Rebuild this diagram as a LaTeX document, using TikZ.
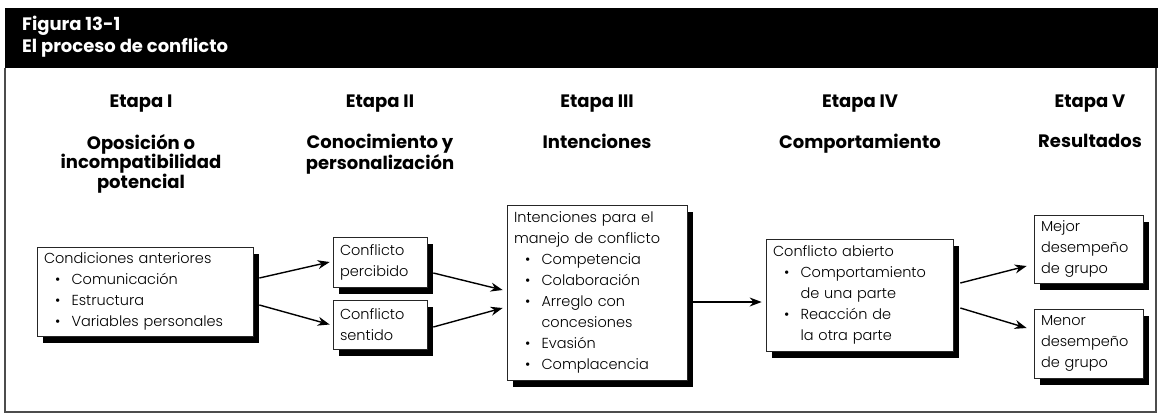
\documentclass[tikz,border=0pt]{standalone}
\usepackage{fontspec}
\setmainfont{Poppins}
\IfFontExistsTF{Poppins Light}{\newfontfamily\lightfam{Poppins Light}}{\newcommand\lightfam{\normalfont}}
\usetikzlibrary{arrows.meta, shadows}

\newcommand{\bodytxt}{\lightfam\fontsize{14.5}{21}\selectfont}
\newcommand{\hdrtxt}{\bfseries\fontsize{18}{19.5}\selectfont}
\newcommand{\titletxt}{\bfseries\fontsize{18}{22}\selectfont}
\newcommand{\blt}{\makebox[1.9em][c]{\textbullet}}
\newcommand{\cnt}{\hspace*{1.9em}}

\begin{document}
\begin{tikzpicture}[
    x=1pt, y=-1pt,
    box/.style={draw=black!85, fill=white, line width=0.7pt, align=left,
        inner xsep=7pt, inner ysep=3pt, font=\bodytxt,
        drop shadow={shadow xshift=6pt, shadow yshift=-7pt, fill=black, opacity=1}},
    hdr/.style={font=\hdrtxt, align=center, inner sep=0pt},
    arr/.style={-{Stealth[length=12pt, width=9pt]}, line width=1.4pt}
]
\useasboundingbox (0,0) rectangle (1158,415);
% frame and black title bar
\draw[line width=1.5pt, black!70] (5,68) -- (5,412) -- (1156,412) -- (1156,68);
\fill (5,8) rectangle (1158,68);
\node[font=\titletxt, text=white, anchor=base west, inner sep=0pt] (fig) at (22,30) {Figura 13-1};
\node[font=\titletxt, text=white, anchor=base west, inner sep=0pt] (tit) at (22,52) {El proceso de conflicto};
% stage headings
\node[hdr, anchor=base] (E1) at (141,107) {Etapa I};
\node[hdr, anchor=base] (E2) at (380,107) {Etapa II};
\node[hdr, anchor=base] (E3) at (597,107) {Etapa III};
\node[hdr, anchor=base] (E4) at (860,107) {Etapa IV};
\node[hdr, anchor=base] (E5) at (1090,107) {Etapa V};
\node[hdr, anchor=north] (N1) at (141,134) {Oposición o\\incompatibilidad\\potencial};
\node[hdr, anchor=north] (N2) at (380,134) {Conocimiento y\\personalización};
\node[hdr, anchor=north] (N3) at (597,134) {Intenciones};
\node[hdr, anchor=north] (N4) at (860,134) {Comportamiento};
\node[hdr, anchor=north] (N5) at (1090,134) {Resultados};
% boxes of each stage
\node[box, text width=202pt, minimum height=89pt] (cond) at (145,291.5)
    {Condiciones anteriores\\\blt Comunicación\\\blt Estructura\\\blt Variables personales};
\node[box, text width=80pt, minimum height=50pt] (perc) at (380,262) {Conflicto\\percibido};
\node[box, text width=80pt, minimum height=49pt] (sent) at (380,324.5) {Conflicto\\sentido};
\node[box, text width=166pt, minimum height=175pt] (inten) at (597,292.5)
    {Intenciones para el\\manejo de conflicto\\\blt Competencia\\\blt Colaboración\\\blt Arreglo con\\\cnt concesiones\\\blt Evasión\\\blt Complacencia};
\node[box, text width=173pt, minimum height=112pt] (abierto) at (859.5,295)
    {Conflicto abierto\\\blt Comportamiento\\\cnt de una parte\\\blt Reacción de\\\cnt la otra parte};
\node[box, text width=95pt, minimum height=68pt] (mejor) at (1088.5,249) {Mejor\\desempeño\\de grupo};
\node[box, text width=95pt, minimum height=69pt] (menor) at (1088.5,343.5) {Menor\\desempeño\\de grupo};
% arrows between stages
\draw[arr] ([xshift=6pt,yshift=13.5pt]cond.east) -- ([xshift=-3pt]perc.west);
\draw[arr] ([xshift=6pt,yshift=-13.5pt]cond.east) -- ([xshift=-3pt]sent.west);
\draw[arr] ([xshift=6pt,yshift=-11pt]perc.east) -- ([xshift=-4pt,yshift=2.5pt]inten.west);
\draw[arr] ([xshift=6pt,yshift=-2.5pt]sent.east) -- ([xshift=-4pt,yshift=-15.5pt]inten.west);
\draw[arr] ([xshift=6pt,yshift=-9.5pt]inten.east) -- ([xshift=-4pt,yshift=-7pt]abierto.west);
\draw[arr] ([xshift=7pt,yshift=12pt]abierto.east) -- ([xshift=-7pt,yshift=-17pt]mejor.west);
\draw[arr] ([xshift=7pt,yshift=-13pt]abierto.east) -- ([xshift=-7pt,yshift=15.5pt]menor.west);
\end{tikzpicture}
\end{document}
